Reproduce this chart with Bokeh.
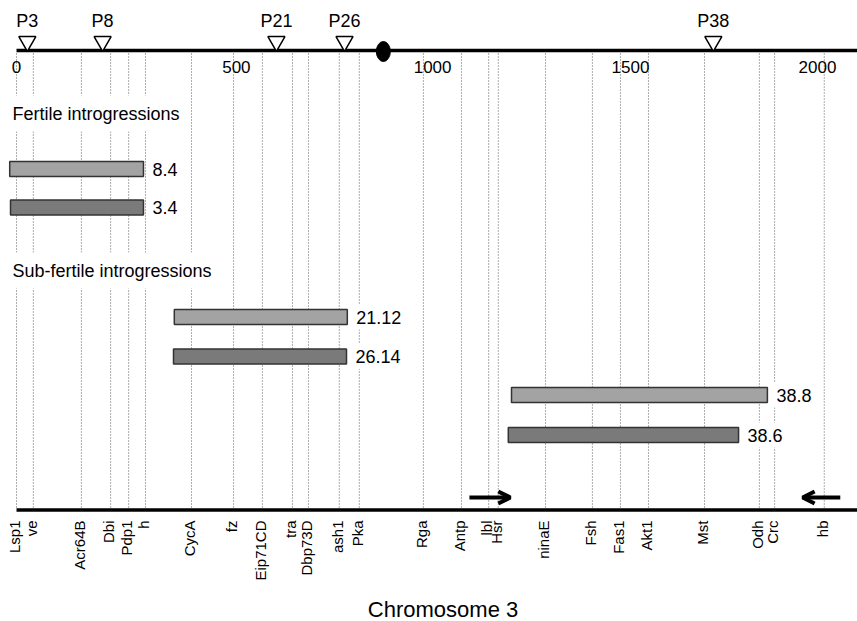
import math
from bokeh.plotting import figure
from bokeh.models import Range1d, Arrow, OpenHead
from bokeh.core.properties import value
from bokeh.embed import file_html
from bokeh.resources import INLINE

# ---- data -------------------------------------------------------------
genes = ["Lsp1", "ve", "Acr64B", "Dbi", "Pdp1", "h", "CycA", "fz", "Eip71CD",
         "tra", "Dbp73D", "ash1", "Pka", "Rga", "Antp", "lbl", "Hsr", "ninaE",
         "Fsh", "Fas1", "Akt1", "Mst", "Odh", "Crc", "hb"]
gene_pos = [0, 42, 162, 235, 280, 322, 437, 542, 614, 689, 729, 806, 856,
            1016, 1111, 1179, 1203, 1321, 1438, 1508, 1578, 1718, 1855, 1893, 2017]

markers = ["P3", "P8", "P21", "P26", "P38"]
marker_pos = [27, 215, 649, 819, 1740]

centromere_pos = [916]

tick_labels = ["0", "500", "1000", "1500", "2000"]
tick_label_pos = [0, 549, 1039, 1533, 2000]

intro_names = ["8.4", "3.4", "21.12", "26.14", "38.8", "38.6"]
intro_start = [-17, -15, 394, 392, 1236, 1228]
intro_end = [317, 317, 826, 824, 1875, 1803]
intro_shade = ["light", "dark", "light", "dark", "light", "dark"]

arrow_start = [1131, 2057]
arrow_end = [1233, 1963]

group_titles = ["Fertile introgressions", "Sub-fertile introgressions"]

# ---- layout (screen rows, pixels from top) ----------------------------
W, H = 857, 621
X0, X1 = -40, 2100
row_y = [168.5, 207, 316.5, 356, 394.5, 434.5]
group_y = [113, 270]
TOP_Y, BOT_Y = 50, 509.5
FONT = value("Liberation Sans")
shade_color = {"light": "#a3a3a3", "dark": "#7a7a7a"}

p = figure(width=W, height=H, x_range=Range1d(X0, X1), y_range=Range1d(H, 0),
           output_backend="svg", toolbar_location=None,
           x_axis_location=None, y_axis_location=None, min_border=0)
p.grid.visible = False
p.outline_line_color = None

# gene dotted lines
p.segment(x0=gene_pos, y0=[TOP_Y + 3] * len(gene_pos), x1=gene_pos,
          y1=[BOT_Y - 2] * len(gene_pos), line_color="#5a5a5a",
          line_width=1, line_dash="1 2")

# chromosome lines
p.segment(x0=[gene_pos[0], gene_pos[0]], y0=[TOP_Y, BOT_Y], x1=[X1, X1],
          y1=[TOP_Y, BOT_Y], line_color="black", line_width=3.5)

# centromere
p.ellipse(x=centromere_pos, y=[TOP_Y + 1], width=14, height=20,
          width_units="screen", height_units="screen", fill_color="black",
          line_color="black")

# P-element markers
p.scatter(x=marker_pos, y=[TOP_Y - 9] * len(marker_pos), marker="inverted_triangle",
          size=17, fill_color="white", line_color="black", line_width=1.5)
p.text(x=marker_pos, y=[20] * len(markers), text=markers, text_font=FONT,
       text_font_size="18px", text_align="center", text_baseline="middle",
       text_color="black")

# tick labels
p.text(x=tick_label_pos, y=[66] * len(tick_labels), text=tick_labels,
       text_font=FONT, text_font_size="17px", text_align="center",
       text_baseline="middle", text_color="black")

# introgression bars
p.quad(left=intro_start, right=intro_end,
       top=[y - 7.5 for y in row_y], bottom=[y + 7.5 for y in row_y],
       fill_color=[shade_color[s] for s in intro_shade],
       line_color="#333333", line_width=1.5)

# value labels
p.text(x=intro_end, y=row_y, text=intro_names, x_offset=3, text_font=FONT,
       text_font_size="18px", text_align="left", text_baseline="middle",
       text_color="black", background_fill_color="white", padding=6)

# group titles
p.text(x=[X0 + 10] * 2, y=group_y, text=group_titles, text_font=FONT,
       text_font_size="18px", text_align="left", text_baseline="middle",
       text_color="black", background_fill_color="white", padding=8)

# direction arrows
for xs, xe in zip(arrow_start, arrow_end):
    p.add_layout(Arrow(end=OpenHead(size=12, line_width=4, line_color="black"),
                       x_start=xs, y_start=497, x_end=xe, y_end=497,
                       line_width=4, line_color="black"))

# gene labels
p.text(x=gene_pos, y=[520] * len(genes), text=genes, angle=math.pi / 2,
       x_offset=-2, text_font=FONT, text_font_size="15px", text_align="right",
       text_baseline="middle", text_color="black")

# axis title
p.text(x=[1065], y=[609], text=["Chromosome 3"], text_font=FONT,
       text_font_size="22px", text_align="center", text_baseline="middle",
       text_color="black")

open("out.html", "w").write(file_html(p, INLINE))
